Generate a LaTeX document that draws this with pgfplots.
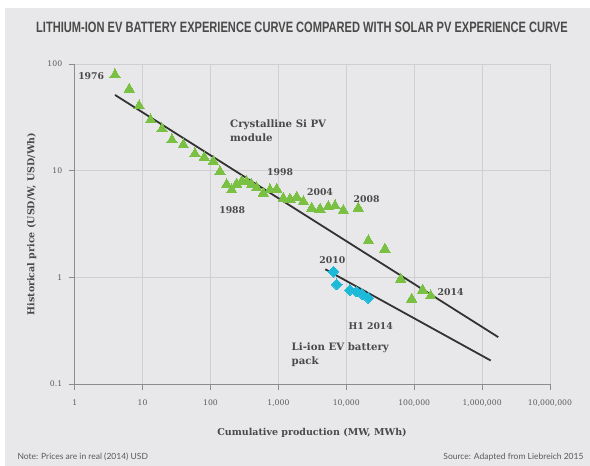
\documentclass[border=0pt]{standalone}
\usepackage{pgfplots}
\pgfplotsset{compat=1.18}
\usepackage{fontspec}
\setmainfont{DejaVu Serif}
\newfontfamily\titlefont[FakeStretch=0.74]{Liberation Sans}
\newfontfamily\notefont{Lato}
\definecolor{bg}{HTML}{E8E8EA}
\definecolor{gridc}{HTML}{CFCFD2}
\definecolor{axisc}{HTML}{8C8C8E}
\definecolor{txt}{HTML}{4A4A4A}
\definecolor{ticktxt}{HTML}{5A5A5A}
\definecolor{pvgreen}{HTML}{7AC143}
\definecolor{liblue}{HTML}{1CB9D9}
\definecolor{linec}{HTML}{333333}
\tikzset{lab/.style={font=\bfseries\fontsize{9.3}{14}\selectfont, text=txt},
         labw/.style={font=\bfseries\fontsize{10.2}{14}\selectfont, text=txt}}
\begin{document}
\begin{tikzpicture}
\path[use as bounding box] (0pt,0pt) rectangle (590pt,-466pt);
\fill[white] (0pt,0pt) rectangle (590pt,-466pt);
\fill[bg] (5pt,-8pt) rectangle (590pt,-466pt);
\node[font=\titlefont\bfseries\fontsize{15}{17}\selectfont, text=txt] at (302pt,-27pt) {LITHIUM-ION EV BATTERY EXPERIENCE CURVE COMPARED WITH SOLAR PV EXPERIENCE CURVE};
\begin{axis}[
  at={(74.7pt,-384pt)}, anchor=south west,
  scale only axis, width=475.3pt, height=320pt,
  xmode=log, ymode=log,
  xmin=1, xmax=1e7, ymin=0.1, ymax=100,
  axis lines*=left,
  axis line style={-, draw=axisc, line width=0.8pt},
  tick align=outside,
  major tick length=6pt,
  tick style={draw=axisc, line width=0.7pt},
  xtick={1,10,100,1000,10000,100000,1000000,10000000},
  xticklabels={1,10,100,{1,000},{10,000},{100,000},{1,000,000},{10,000,000}},
  ytick={0.1,1,10,100},
  yticklabels={0.1,1,10,100},
  xminorticks=false, yminorticks=false,
  grid=major,
  major grid style={draw=gridc, line width=0.7pt},
  ticklabel style={font=\fontsize{7.7}{9}\selectfont, text=ticktxt},
  xticklabel style={yshift=-6pt},
  yticklabel style={xshift=-3pt},
  clip=false,
]
\addplot[pvgreen, only marks, mark=triangle*, mark size=6pt, mark options={fill=pvgreen, draw=pvgreen, line width=0pt}] coordinates {
(3.92,79) (6.37,58) (8.9,40.5) (13.1,29.9) (19.3,24.6) (27.1,19.4) (39.8,17.5) (59,14.4) (81,13.3) (110,12.2) (138,9.8)
(173,7.4) (205,6.6) (243,7.5) (288,7.9) (341,7.9) (404,7.4) (479,6.9) (600,6.15) (752,6.6) (944,6.7)
(1181,5.5) (1482,5.4) (1860,5.65) (2330,5.13) (3090,4.45) (4100,4.35) (5430,4.61) (6820,4.68) (9040,4.23) (15000,4.45)
(21100,2.21) (37100,1.84) (63300,0.96) (91800,0.625) (133000,0.76) (175000,0.67)
};
\addplot[liblue, only marks, mark=square*, mark size=3.8pt, mark options={fill=liblue, draw=liblue, line width=0pt, rotate=45}] coordinates {
(6440,1.13) (7210,0.86) (11300,0.76) (14200,0.736) (16900,0.70) (21100,0.64)
};
\addplot[linec, line width=1.8pt, no marks] coordinates {(3.92,51.3) (1730000,0.275)};
\addplot[linec, line width=1.8pt, no marks] coordinates {(4900,1.19) (1340000,0.166)};
\node[lab, anchor=east] at (axis cs:3.06,76.2) {1976};
\node[labw, anchor=west, align=left] at (axis cs:173,23.5) {Crystalline Si PV\\module};
\node[lab] at (axis cs:1060,9.68) {1998};
\node[lab] at (axis cs:209,4.23) {1988};
\node[lab] at (axis cs:4100,6.29) {2004};
\node[lab] at (axis cs:19950,5.41) {2008};
\node[lab] at (axis cs:6220,1.46) {2010};
\node[lab] at (axis cs:344000,0.727) {2014};
\node[lab] at (axis cs:22900,0.346) {H1 2014};
\node[labw, anchor=west, align=left] at (axis cs:1393,0.187) {Li-ion EV battery\\pack};
\end{axis}
\node[font=\bfseries\fontsize{9.5}{11}\selectfont, text=txt] at (312pt,-432.5pt) {Cumulative production (MW, MWh)};
\node[font=\bfseries\fontsize{9.5}{11}\selectfont, text=txt, rotate=90] at (31.7pt,-224pt) {Historical price (USD/W, USD/Wh)};
\node[font=\notefont\fontsize{8.5}{10}\selectfont, text=ticktxt, anchor=west] at (14pt,-457pt) {Note: Prices are in real (2014) USD};
\node[font=\notefont\fontsize{8.5}{10}\selectfont, text=ticktxt, anchor=east] at (587pt,-457pt) {Source: Adapted from Liebreich 2015};
\end{tikzpicture}
\end{document}
